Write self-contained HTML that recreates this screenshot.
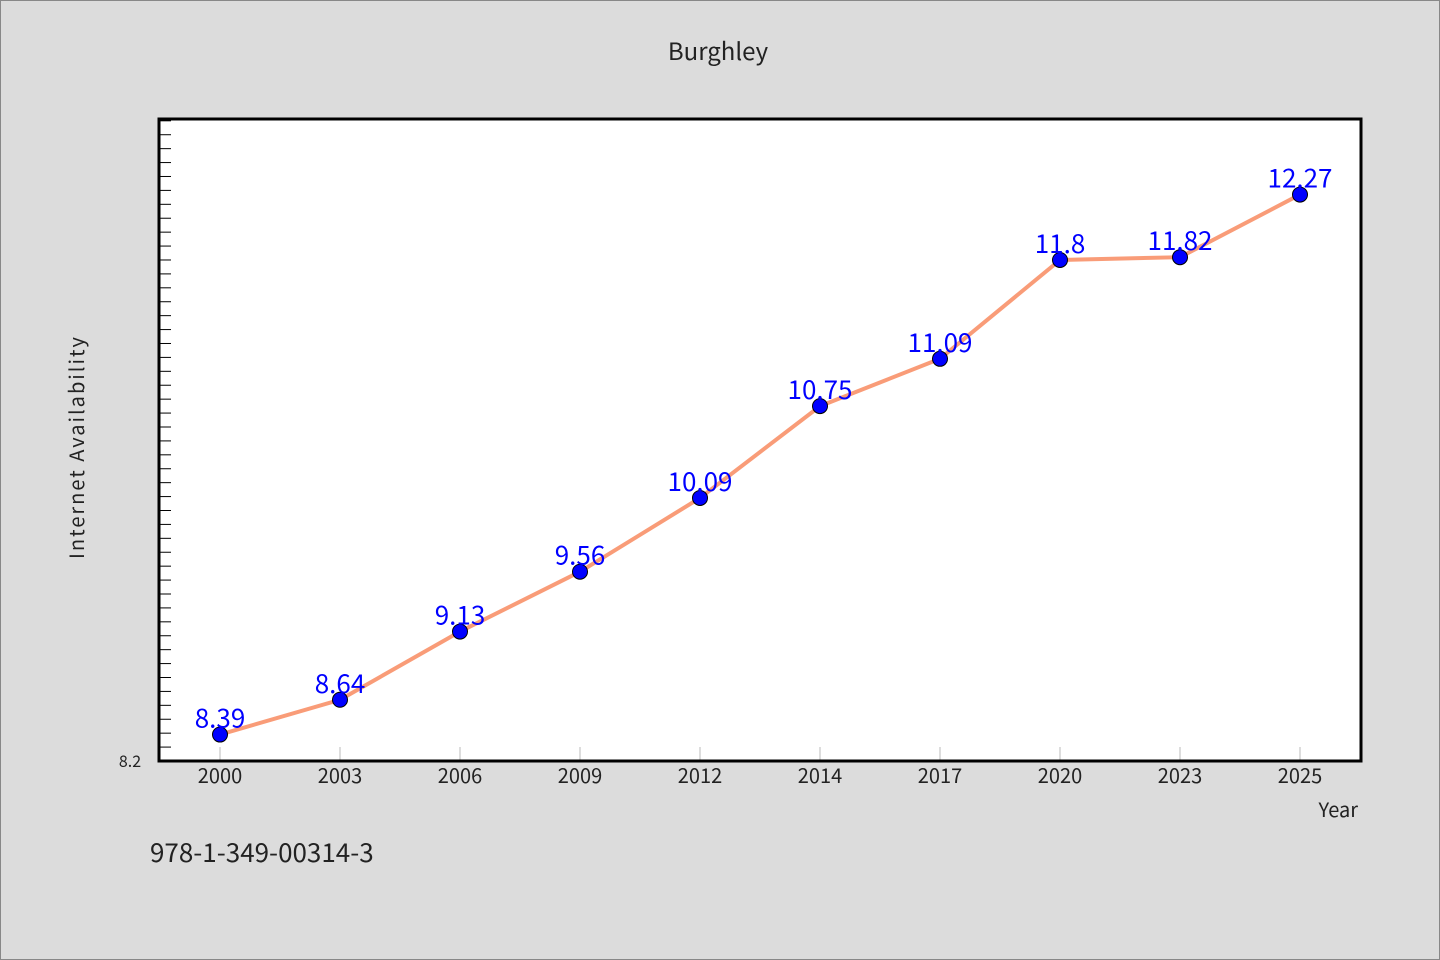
<!DOCTYPE html>
<html><head><meta charset="utf-8"><style>
body{margin:0;width:1440px;height:960px;background:#dcdcdc;overflow:hidden}
svg{display:block}
text{font-family:"WenQuanYi Zen Hei","Noto Sans CJK SC","Liberation Sans",sans-serif}
</style></head><body>
<svg id="chart" width="1440" height="960" xmlns="http://www.w3.org/2000/svg">
<rect x="0.5" y="0.5" width="1439" height="959" fill="#dcdcdc" stroke="#888"/>
<text x="718" y="60" font-size="24" text-anchor="middle" fill="#222">Burghley</text>
<rect x="159" y="119" width="1202" height="642" fill="#fff"/>
<g id="ticks"></g>
<g id="series"></g>
<rect x="159" y="119" width="1202" height="642" fill="none" stroke="#000" stroke-width="3"/>
<text x="130" y="767" font-size="16" text-anchor="middle" fill="#222">8.2</text>
<text transform="translate(84,447) rotate(-90)" font-size="20" text-anchor="middle" fill="#222" letter-spacing="2">Internet Availability</text>
<text x="1358" y="817" font-size="20" text-anchor="end" fill="#222">Year</text>
<text x="150" y="862" font-size="26" fill="#222">978-1-349-00314-3</text>
</svg>
<script>
const categories=["2000","2003","2006","2009","2012","2014","2017","2020","2023","2025"];
const values=[8.39,8.64,9.13,9.56,10.09,10.75,11.09,11.8,11.82,12.27];
const yMin=8.2, yMax=12.813;
const NS="http://www.w3.org/2000/svg";
const px=i=>220+i*120;
const py=v=>761-(v-yMin)/(yMax-yMin)*642;
const tg=document.getElementById('ticks'), sg=document.getElementById('series');
function mk(tag,attrs,parent){const e=document.createElementNS(NS,tag);for(const k in attrs)e.setAttribute(k,attrs[k]);parent.appendChild(e);return e;}
for(let v=yMin+0.1;v<yMax;v+=0.1){
  const t=mk('line',{x1:159,x2:171,y1:py(v),y2:py(v),stroke:'#000','stroke-width':1},tg);
  
  
}
categories.forEach((c,i)=>{
  const t=mk('line',{x1:px(i),x2:px(i),y1:747,y2:761,stroke:'#bbb','stroke-width':1},tg);
  
  
  const l=mk('text',{x:px(i),y:783,'font-size':20,'text-anchor':'middle',fill:'#222'},tg);
  l.textContent=c;
  
  
});
const line=mk('polyline',{points:values.map((v,i)=>px(i)+','+py(v)).join(' '),fill:'none',stroke:'#f99c78','stroke-width':4},sg);


values.forEach((v,i)=>{
  const c=mk('circle',{cx:px(i),cy:py(v),r:7.5,fill:'#0000ff',stroke:'#000','stroke-width':1},sg);
  
  
  const t=mk('text',{x:px(i),y:py(v)-7,'font-size':26,'text-anchor':'middle',fill:'#0000ff'},sg);
  t.textContent=String(v);
  
  
});
</script>
</body></html>
